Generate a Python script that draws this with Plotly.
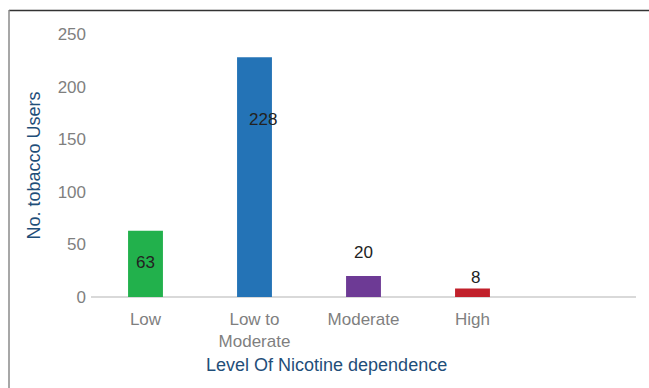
import plotly.graph_objects as go

# Data
categories = ["Low", "Low to<br>Moderate", "Moderate", "High"]
users = [63, 228, 20, 8]
bar_colors = ["#22b14c", "#2473b6", "#6d3a95", "#c1202b"]

# Where each value label sits, in axis units, and its horizontal nudge (px)
label_y = [33, 169, 42, 19]
label_dx = [0, 8, 0, 3]

W, H = 649, 388
ML, MR, MT, MB = 91, 13, 34, 91
pw, ph = W - ML - MR, H - MT - MB


def px(xp):
    return (xp - ML) / pw


def py(yp):
    return (H - MB - yp) / ph


fig = go.Figure()
fig.add_trace(go.Bar(
    x=list(range(len(categories))),
    y=users,
    marker=dict(color=bar_colors, line=dict(width=0)),
    width=0.32,
    hoverinfo="skip",
))

for i, (v, ly, dx) in enumerate(zip(users, label_y, label_dx)):
    fig.add_annotation(
        x=i, y=ly, xref="x", yref="y", text=str(v), showarrow=False,
        xshift=dx, font=dict(size=17, color="#222222"),
    )

# x-axis title, placed as an annotation
fig.add_annotation(
    x=px(326), y=py(365), xref="paper", yref="paper",
    xanchor="center", yanchor="middle",
    text="Level Of Nicotine dependence",
    showarrow=False, font=dict(size=18, color="#1f4e79"),
)

# outer frame lines (top and left)
fig.add_shape(type="line", xref="paper", yref="paper",
              x0=px(9), x1=px(W + 5), y0=py(10.5), y1=py(10.5),
              line=dict(color="#333333", width=1.5))
fig.add_shape(type="line", xref="paper", yref="paper",
              x0=px(9), x1=px(9), y0=py(10), y1=py(H + 5),
              line=dict(color="#8a8a8a", width=1.5))

fig.update_layout(
    width=W, height=H,
    margin=dict(l=ML, r=MR, t=MT, b=MB),
    paper_bgcolor="white", plot_bgcolor="white",
    showlegend=False,
    font=dict(family="Liberation Sans, Arial, sans-serif"),
    xaxis=dict(
        tickmode="array",
        tickvals=list(range(len(categories))),
        ticktext=categories,
        range=[-0.5, 4.5],
        showgrid=False, zeroline=False,
        showline=False, ticks="",
        ticklabelstandoff=10,
        tickfont=dict(size=17, color="#7f7f7f"),
    ),
    yaxis=dict(
        range=[0, 250], dtick=50,
        showgrid=False, zeroline=True, zerolinecolor="#d9d9d9", zerolinewidth=1.5,
        showline=False, ticks="",
        ticklabelstandoff=4,
        tickfont=dict(size=17, color="#7f7f7f"),
        title=dict(text="No. tobacco Users", font=dict(size=18, color="#1f4e79"), standoff=12),
    ),
)

fig.write_html("out.html")
